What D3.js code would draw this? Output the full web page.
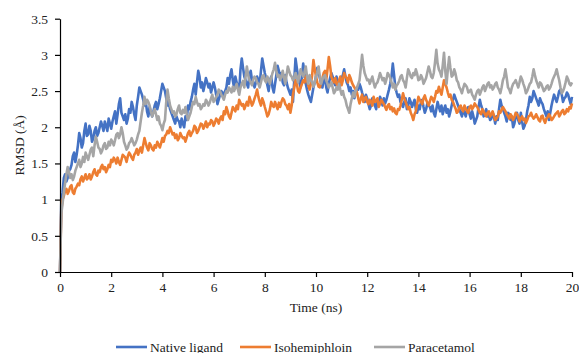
<!DOCTYPE html>
<html><head><meta charset="utf-8">
<script src="https://cdn.jsdelivr.net/npm/d3@7"></script>
<style>body{margin:0;background:#fff}svg{display:block}text{font-family:"Liberation Serif","Times New Roman",serif;fill:#222}</style>
</head><body><div id="chart"></div>
<script>
const timeStep = 0.05; // ns between samples
const seriesNames = ["Native ligand", "Isohemiphloin", "Paracetamol"];
const seriesColors = ["#4472C4", "#ED7D31", "#A5A5A5"];
const xTicks = [0,2,4,6,8,10,12,14,16,18,20];
const yTicks = [0,0.5,1,1.5,2,2.5,3,3.5];
const yTickLabels = ["0","0.5","1","1.5","2","2.5","3","3.5"];

const nativeLigand = [0,
0.95,1.10, 1.30,1.35, 1.25,1.30, 1.40,1.42, 1.48,1.60, 1.65,1.52, 1.62,1.75, 1.92,1.85, 1.72,1.78, 1.95,2.05,
1.88,1.90, 2.02,1.95, 1.80,1.85, 1.95,2.00, 1.88,1.92, 2.00,2.08, 2.02,1.95, 2.08,2.02, 1.95,2.12, 2.05,1.98,
2.08,2.15, 2.22,2.05, 2.18,2.32, 2.40,2.20, 2.15,2.10, 2.18,2.05, 2.12,2.25, 2.20,2.35, 2.28,2.18, 2.10,2.30,
2.42,2.55, 2.50,2.45, 2.38,2.30, 2.35,2.22, 2.15,2.28, 2.20,2.15, 2.22,2.30, 2.35,2.25, 2.32,2.40, 2.50,2.60,
2.55,2.50, 2.40,2.30, 2.35,2.25, 2.20,2.15, 2.10,2.05, 2.15,2.10, 2.08,2.00, 2.12,2.05, 2.00,2.15, 2.10,2.30,
2.25,2.35, 2.42,2.52, 2.60,2.45, 2.62,2.78, 2.70,2.55, 2.62,2.50, 2.58,2.68, 2.62,2.55, 2.60,2.48, 2.55,2.62,
2.55,2.45, 2.32,2.38, 2.45,2.50, 2.48,2.42, 2.50,2.55, 2.68,2.60, 2.72,2.80, 2.65,2.55, 2.70,2.62, 2.58,2.50,
2.80,2.95, 2.82,2.70, 2.65,2.60, 2.55,2.72, 2.78,2.65, 2.62,2.55, 2.62,2.70, 2.65,2.60, 2.78,2.95, 2.85,2.75,
2.68,2.58, 2.50,2.65, 2.70,2.55, 2.48,2.60, 2.72,2.85, 2.78,2.70, 2.75,2.62, 2.58,2.72, 2.62,2.55, 2.50,2.45,
2.52,2.35, 2.65,2.95, 2.82,2.70, 2.62,2.55, 2.70,2.88, 2.75,2.60, 2.52,2.45, 2.40,2.35, 2.45,2.55, 2.62,2.70,
2.82,2.75, 2.68,2.60, 2.55,2.65, 2.70,2.55, 2.48,2.60, 2.68,2.75, 2.70,2.62, 2.58,2.70, 2.62,2.55, 2.60,2.68,
2.72,2.80, 2.70,2.62, 2.58,2.50, 2.55,2.45, 2.50,2.40, 2.48,2.55, 2.52,2.60, 2.55,2.48, 2.42,2.35, 2.45,2.40,
2.32,2.25, 2.30,2.40, 2.35,2.30, 2.25,2.38, 2.30,2.42, 2.38,2.30, 2.40,2.33, 2.38,2.45, 2.52,2.60, 2.70,2.88,
2.72,2.55, 2.48,2.42, 2.45,2.35, 2.32,2.28, 2.35,2.40, 2.25,2.30, 2.40,2.35, 2.28,2.33, 2.38,2.25, 2.20,2.30,
2.25,2.35, 2.38,2.28, 2.20,2.25, 2.33,2.30, 2.28,2.22, 2.30,2.20, 2.15,2.25, 2.35,2.28, 2.22,2.30, 2.18,2.25,
2.30,2.20, 2.25,2.15, 2.22,2.30, 2.38,2.45, 2.40,2.35, 2.30,2.25, 2.20,2.15, 2.25,2.20, 2.15,2.25, 2.28,2.18,
2.12,2.22, 2.15,2.05, 2.10,2.15, 2.28,2.38, 2.30,2.25, 2.15,2.20, 2.25,2.15, 2.18,2.10, 2.12,2.20, 2.15,2.05,
2.15,2.10, 2.25,2.38, 2.30,2.25, 2.20,2.15, 2.08,2.20, 2.18,2.10, 2.15,2.00, 2.05,2.15, 2.20,2.10, 2.05,2.20,
2.08,1.98, 2.02,2.10, 2.22,2.30, 2.42,2.35, 2.40,2.50, 2.45,2.40, 2.35,2.30, 2.40,2.35, 2.32,2.25, 2.20,2.15,
2.22,2.10, 2.20,2.30, 2.38,2.45, 2.40,2.35, 2.42,2.50, 2.52,2.45, 2.35,2.40, 2.42,2.48, 2.45,2.38, 2.32,2.42];

const isohemiphloin = [0,
0.85,1.00, 1.05,1.12, 1.15,1.08, 1.12,1.18, 1.20,1.10, 1.08,1.15, 1.18,1.22, 1.20,1.28, 1.32,1.25, 1.30,1.35,
1.28,1.30, 1.35,1.28, 1.32,1.38, 1.42,1.35, 1.33,1.40, 1.38,1.45, 1.48,1.42, 1.45,1.38, 1.42,1.48, 1.45,1.55,
1.52,1.58, 1.55,1.50, 1.58,1.52, 1.48,1.55, 1.62,1.60, 1.58,1.52, 1.60,1.65, 1.62,1.58, 1.55,1.62, 1.65,1.70,
1.62,1.68, 1.72,1.65, 1.75,1.85, 1.78,1.72, 1.68,1.78, 1.75,1.70, 1.68,1.75, 1.72,1.80, 1.76,1.72, 1.78,1.85,
1.80,1.88, 1.90,1.95, 1.92,2.00, 1.95,1.90, 1.92,1.85, 1.90,1.82, 1.85,1.92, 1.88,1.85, 1.86,1.80, 1.86,1.92,
1.95,1.88, 1.92,1.95, 2.02,2.00, 1.92,1.95, 2.00,2.05, 2.04,1.98, 2.02,2.08, 2.00,2.05, 2.04,2.10, 2.08,2.02,
2.06,2.12, 2.10,2.05, 2.12,2.15, 2.10,2.22, 2.18,2.28, 2.22,2.15, 2.12,2.20, 2.28,2.25, 2.22,2.30, 2.25,2.38,
2.34,2.30, 2.32,2.25, 2.30,2.35, 2.30,2.42, 2.36,2.30, 2.34,2.40, 2.45,2.52, 2.42,2.35, 2.30,2.40, 2.35,2.28,
2.22,2.15, 2.18,2.25, 2.35,2.30, 2.28,2.35, 2.30,2.25, 2.34,2.28, 2.35,2.40, 2.38,2.32, 2.30,2.25, 2.32,2.20,
2.30,2.45, 2.55,2.65, 2.60,2.50, 2.48,2.55, 2.60,2.65, 2.62,2.70, 2.65,2.58, 2.52,2.60, 2.72,2.93, 2.80,2.70,
2.62,2.56, 2.55,2.62, 2.68,2.75, 2.78,2.65, 2.80,2.97, 2.85,2.70, 2.65,2.62, 2.68,2.60, 2.58,2.65, 2.70,2.58,
2.65,2.75, 2.70,2.68, 2.62,2.72, 2.68,2.62, 2.58,2.55, 2.52,2.48, 2.40,2.33, 2.40,2.45, 2.35,2.40, 2.42,2.35,
2.32,2.38, 2.35,2.30, 2.42,2.35, 2.36,2.40, 2.28,2.32, 2.38,2.35, 2.32,2.28, 2.24,2.30, 2.32,2.25, 2.28,2.22,
2.26,2.20, 2.18,2.25, 2.24,2.30, 2.38,2.47, 2.40,2.35, 2.30,2.25, 2.28,2.20, 2.16,2.10, 2.18,2.22, 2.32,2.42,
2.38,2.35, 2.32,2.40, 2.44,2.38, 2.34,2.30, 2.36,2.42, 2.40,2.35, 2.42,2.50, 2.48,2.56, 2.50,2.45, 2.55,2.65,
2.60,2.55, 2.48,2.42, 2.45,2.38, 2.35,2.30, 2.26,2.20, 2.22,2.28, 2.30,2.25, 2.22,2.30, 2.26,2.22, 2.20,2.28,
2.30,2.25, 2.28,2.33, 2.30,2.28, 2.24,2.20, 2.18,2.25, 2.22,2.18, 2.15,2.20, 2.22,2.15, 2.18,2.22, 2.16,2.10,
2.12,2.15, 2.22,2.20, 2.24,2.28, 2.25,2.22, 2.18,2.15, 2.12,2.18, 2.15,2.10, 2.14,2.20, 2.18,2.15, 2.08,2.12,
2.15,2.10, 2.12,2.06, 2.10,2.15, 2.16,2.20, 2.15,2.12, 2.14,2.18, 2.14,2.10, 2.08,2.15, 2.16,2.10, 2.06,2.12,
2.14,2.18, 2.15,2.10, 2.12,2.15, 2.18,2.20, 2.22,2.15, 2.18,2.22, 2.24,2.18, 2.20,2.25, 2.22,2.28, 2.26,2.33];

const paracetamol = [0,
0.80,0.95, 1.10,1.23, 1.35,1.45, 1.38,1.30, 1.35,1.27, 1.32,1.40, 1.45,1.50, 1.55,1.45, 1.50,1.59, 1.52,1.65,
1.60,1.55, 1.62,1.69, 1.72,1.60, 1.75,1.87, 1.80,1.72, 1.70,1.64, 1.68,1.75, 1.78,1.70, 1.72,1.80, 1.75,1.83,
1.80,1.75, 1.82,1.90, 1.92,1.85, 1.90,2.00, 1.92,1.80, 1.75,1.69, 1.72,1.78, 1.80,1.85, 1.80,1.75, 1.78,1.83,
1.90,1.95, 2.08,2.20, 2.30,2.42, 2.32,2.38, 2.35,2.30, 2.22,2.15, 2.20,2.25, 2.18,2.10, 2.15,2.05, 2.02,1.96,
2.05,2.10, 2.35,2.52, 2.40,2.30, 2.25,2.20, 2.22,2.15, 2.18,2.25, 2.30,2.20, 2.18,2.24, 2.20,2.28, 2.18,2.10,
2.15,2.20, 2.28,2.35, 2.32,2.42, 2.35,2.30, 2.32,2.25, 2.28,2.32, 2.30,2.38, 2.35,2.30, 2.34,2.40, 2.45,2.35,
2.38,2.42, 2.45,2.52, 2.50,2.45, 2.42,2.38, 2.45,2.50, 2.48,2.55, 2.52,2.48, 2.56,2.50, 2.55,2.60, 2.52,2.45,
2.55,2.60, 2.64,2.55, 2.70,2.84, 2.72,2.65, 2.62,2.58, 2.66,2.70, 2.68,2.62, 2.60,2.55, 2.62,2.70, 2.72,2.65,
2.62,2.70, 2.66,2.60, 2.68,2.75, 2.80,2.89, 2.78,2.70, 2.72,2.65, 2.70,2.78, 2.68,2.60, 2.72,2.84, 2.78,2.72,
2.70,2.65, 2.68,2.75, 2.70,2.62, 2.72,2.80, 2.74,2.70, 2.76,2.84, 2.70,2.60, 2.72,2.65, 2.62,2.56, 2.62,2.70,
2.76,2.84, 2.70,2.60, 2.66,2.70, 2.72,2.65, 2.60,2.55, 2.58,2.62, 2.55,2.47, 2.50,2.55, 2.52,2.60, 2.52,2.45,
2.50,2.42, 2.38,2.30, 2.25,2.20, 2.32,2.40, 2.48,2.42, 2.50,2.55, 2.60,2.65, 2.82,3.00, 2.85,2.75, 2.70,2.65,
2.66,2.60, 2.65,2.70, 2.62,2.55, 2.60,2.62, 2.68,2.75, 2.70,2.65, 2.68,2.60, 2.66,2.75, 2.72,2.68, 2.62,2.55,
2.60,2.52, 2.58,2.60, 2.64,2.70, 2.72,2.65, 2.62,2.55, 2.68,2.80, 2.76,2.70, 2.68,2.75, 2.72,2.80, 2.74,2.65,
2.66,2.72, 2.68,2.60, 2.64,2.68, 2.76,2.84, 2.78,2.70, 2.68,2.75, 2.90,3.07, 2.88,2.80, 2.76,2.70, 2.85,3.03,
2.78,2.60, 2.80,2.97, 2.82,2.70, 2.72,2.80, 2.74,2.65, 2.62,2.55, 2.52,2.47, 2.54,2.60, 2.58,2.55, 2.48,2.50,
2.52,2.45, 2.42,2.38, 2.45,2.50, 2.52,2.45, 2.50,2.55, 2.58,2.50, 2.55,2.60, 2.62,2.55, 2.58,2.52, 2.55,2.60,
2.62,2.55, 2.52,2.47, 2.55,2.65, 2.70,2.80, 2.68,2.55, 2.52,2.47, 2.55,2.60, 2.62,2.65, 2.60,2.55, 2.62,2.70,
2.66,2.60, 2.55,2.47, 2.50,2.55, 2.60,2.62, 2.70,2.80, 2.72,2.65, 2.60,2.55, 2.62,2.60, 2.55,2.50, 2.52,2.56,
2.58,2.52, 2.55,2.60, 2.66,2.70, 2.74,2.80, 2.72,2.65, 2.55,2.47, 2.50,2.55, 2.62,2.70, 2.66,2.60, 2.58,2.62];

const seriesValues = [nativeLigand, isohemiphloin, paracetamol];

const W = 579, H = 353;
const m = {left: 60, right: 7, top: 18.7, bottom: 81};
const svg = d3.select("#chart").append("svg").attr("width", W).attr("height", H);
const x = d3.scaleLinear().domain([0, 20]).range([m.left, W - m.right]);
const y = d3.scaleLinear().domain([0, 3.5]).range([H - m.bottom, m.top]);

const line = d3.line().x((d, i) => x(i * timeStep)).y(d => y(d));
seriesValues.forEach((vals, k) => {
  svg.append("path").datum(vals).attr("d", line)
    .attr("fill", "none").attr("stroke", seriesColors[k])
    .attr("stroke-width", 2.6).attr("stroke-linejoin", "round");
});

const xAxis = svg.append("g").attr("transform", `translate(0,${y(0)})`)
  .call(d3.axisBottom(x).tickValues(xTicks).tickSize(5).tickSizeOuter(0).tickPadding(5));
const yAxis = svg.append("g").attr("transform", `translate(${x(0)},0)`)
  .call(d3.axisLeft(y).tickValues(yTicks).tickFormat((d, i) => yTickLabels[i]).tickSize(5).tickSizeOuter(0).tickPadding(7));
[xAxis, yAxis].forEach(g => {
  g.selectAll("path,line").attr("stroke", "#000").attr("stroke-width", 1.2);
  g.selectAll("text").attr("font-size", 13.5).attr("fill", "#222")
    .style("font-family", '"Liberation Serif", serif');
});

svg.append("text").attr("x", (x(0) + x(20)) / 2).attr("y", 312)
  .attr("text-anchor", "middle").attr("font-size", 13.5).text("Time (ns)");
svg.append("text").attr("transform", `translate(24,${(y(0) + y(3.5)) / 2}) rotate(-90)`)
  .attr("text-anchor", "middle").attr("font-size", 13.5).text("RMSD (Å)");

const legendX = [116, 240, 374];
seriesNames.forEach((name, k) => {
  const g = svg.append("g").attr("transform", `translate(${legendX[k]},347)`);
  g.append("line").attr("x1", 0).attr("x2", 31).attr("y1", 0).attr("y2", 0)
    .attr("stroke", seriesColors[k]).attr("stroke-width", 2.6);
  g.append("text").attr("x", 34).attr("y", 4.5).attr("font-size", 13.5).text(name);
});
</script></body></html>
